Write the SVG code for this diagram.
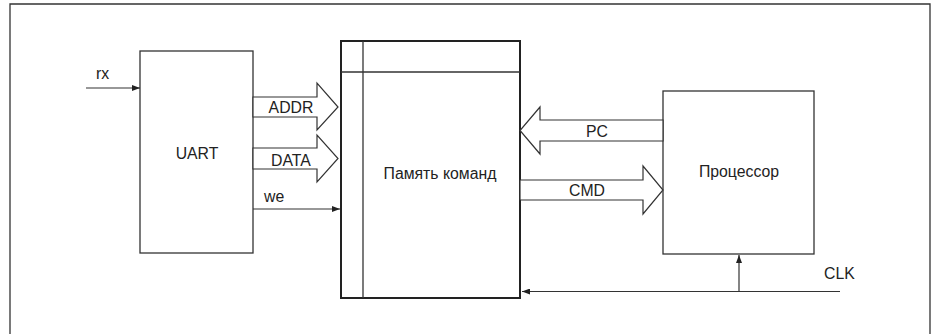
<svg xmlns="http://www.w3.org/2000/svg" width="934" height="334" viewBox="0 0 934 334">
<defs>
<marker id="ah" viewBox="0 0 8 6" refX="8" refY="3" markerWidth="8" markerHeight="6" markerUnits="userSpaceOnUse" orient="auto">
<path d="M0,0 L8,3 L0,6 Z" fill="#222"/>
</marker>
</defs>
<style>
.ln{fill:none;stroke:#333;stroke-width:1.3}
.blk{fill:#fff;stroke:#333;stroke-width:1.3}
.mem{fill:#fff;stroke:#222;stroke-width:2}
.bus{fill:#fff;stroke:#333;stroke-width:1.2;stroke-linejoin:miter}
.sig{fill:none;stroke:#333;stroke-width:1.2;marker-end:url(#ah)}
text{font-family:"Liberation Sans",Arial,sans-serif;font-size:15.8px;fill:#222}
.c{text-anchor:middle}
</style>
<rect width="934" height="334" fill="#fff"/>
<path class="ln" d="M10,334 L10,4 L930,4 L930,334" stroke-width="1.6"/>

<g id="uart">
<rect class="blk" x="140" y="51" width="113" height="202"/>
<text class="c" x="197" y="159">UART</text>
</g>

<g id="memory">
<rect class="mem" x="341" y="41" width="179" height="257"/>
<line class="ln" x1="363" y1="41" x2="363" y2="298"/>
<line class="ln" x1="341" y1="72" x2="520" y2="72"/>
<text class="c" x="440" y="179">Память команд</text>
</g>

<g id="processor">
<rect class="blk" x="663" y="91" width="151" height="163"/>
<text class="c" x="739" y="177">Процессор</text>
</g>

<g id="connectors">
<line class="sig" x1="86" y1="88" x2="140" y2="88"/>
<text x="96" y="79">rx</text>

<polygon class="bus" points="253,97 317,97 317,83 338,107 317,130 317,117 253,117"/>
<text class="c" x="291" y="113">ADDR</text>

<polygon class="bus" points="253,148 317,148 317,135 338,158.5 317,182 317,169 253,169"/>
<text class="c" x="291" y="166">DATA</text>

<line class="sig" x1="253" y1="209" x2="340" y2="209"/>
<text x="264" y="202">we</text>

<polygon class="bus" points="663,120 540,120 540,107 520,130.5 540,154 540,141 663,141"/>
<text class="c" x="597" y="137">PC</text>

<polygon class="bus" points="520,180 643,180 643,166 663,190 643,214 643,200 520,200"/>
<text class="c" x="587" y="196">CMD</text>

<line class="sig" x1="840" y1="291.5" x2="522" y2="291.5"/>
<line class="sig" x1="739" y1="291.5" x2="739" y2="255"/>
<text x="824" y="279">CLK</text>
</g>
</svg>
